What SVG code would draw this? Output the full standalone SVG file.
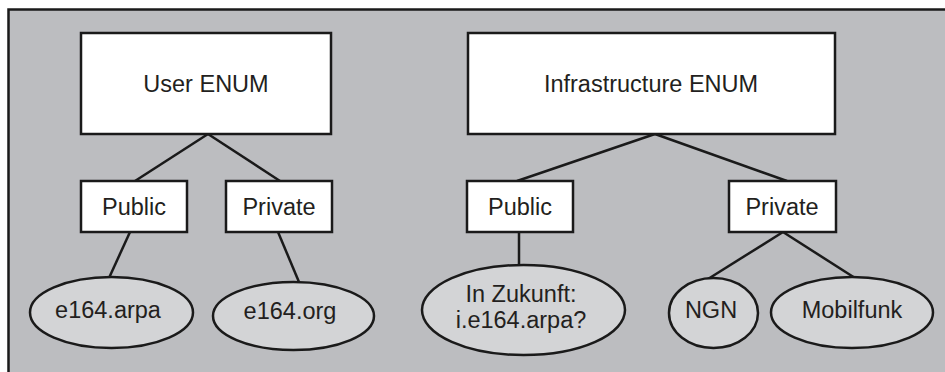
<svg xmlns="http://www.w3.org/2000/svg" width="945" height="372" viewBox="0 0 945 372">
<style>
.box{fill:#ffffff;stroke:#1a1a1a;stroke-width:2.5}
.ell{fill:#d3d4d6;stroke:#1a1a1a;stroke-width:2.5}
.lbl{font-family:"Liberation Sans",Arial,sans-serif;font-size:23.5px;fill:#231f20;text-anchor:middle}
.con line{stroke:#1a1a1a;stroke-width:2.5}
</style>
<rect x="0" y="0" width="945" height="372" fill="#ffffff"/>
<rect id="frame" x="8.5" y="9.5" width="945" height="380" fill="#bcbdc0" stroke="#1a1a1a" stroke-width="2.5"/>
<g class="con" id="connectors">
<line x1="208" y1="134" x2="135" y2="181"/>
<line x1="208" y1="134" x2="280" y2="181"/>
<line x1="130" y1="232" x2="109" y2="278"/>
<line x1="278" y1="232" x2="299" y2="282"/>
<line x1="655" y1="134" x2="517" y2="181"/>
<line x1="655" y1="134" x2="787" y2="181"/>
<line x1="519" y1="232" x2="519" y2="265"/>
<line x1="783" y1="232" x2="708" y2="279"/>
<line x1="783" y1="232" x2="855" y2="278"/>
</g>
<g id="user-enum"><rect class="box" x="81" y="33" width="250" height="101"/><text class="lbl" x="206" y="92">User ENUM</text></g>
<g id="user-public"><rect class="box" x="81" y="181" width="106" height="51"/><text class="lbl" x="134" y="215">Public</text></g>
<g id="user-private"><rect class="box" x="226" y="181" width="106" height="51"/><text class="lbl" x="279" y="215">Private</text></g>
<g id="e164-arpa"><ellipse class="ell" cx="111.5" cy="312.5" rx="81.5" ry="35.5"/><text class="lbl" x="108" y="318">e164.arpa</text></g>
<g id="e164-org"><ellipse class="ell" cx="293.5" cy="316" rx="80.5" ry="34"/><text class="lbl" x="290" y="319">e164.org</text></g>
<g id="infra-enum"><rect class="box" x="468" y="33" width="367" height="101"/><text class="lbl" x="651" y="92">Infrastructure ENUM</text></g>
<g id="infra-public"><rect class="box" x="467" y="181" width="106" height="51"/><text class="lbl" x="520" y="215">Public</text></g>
<g id="infra-private"><rect class="box" x="729" y="181" width="107" height="51"/><text class="lbl" x="782" y="215">Private</text></g>
<g id="zukunft"><ellipse class="ell" cx="523.5" cy="310" rx="101.5" ry="45"/><text class="lbl" x="521" y="302">In Zukunft:</text><text class="lbl" x="521" y="328">i.e164.arpa?</text></g>
<g id="ngn"><ellipse class="ell" cx="713.5" cy="313" rx="44.5" ry="35"/><text class="lbl" x="711" y="318">NGN</text></g>
<g id="mobilfunk"><ellipse class="ell" cx="852" cy="312.5" rx="81" ry="35.5"/><text class="lbl" x="852" y="318">Mobilfunk</text></g>
</svg>
